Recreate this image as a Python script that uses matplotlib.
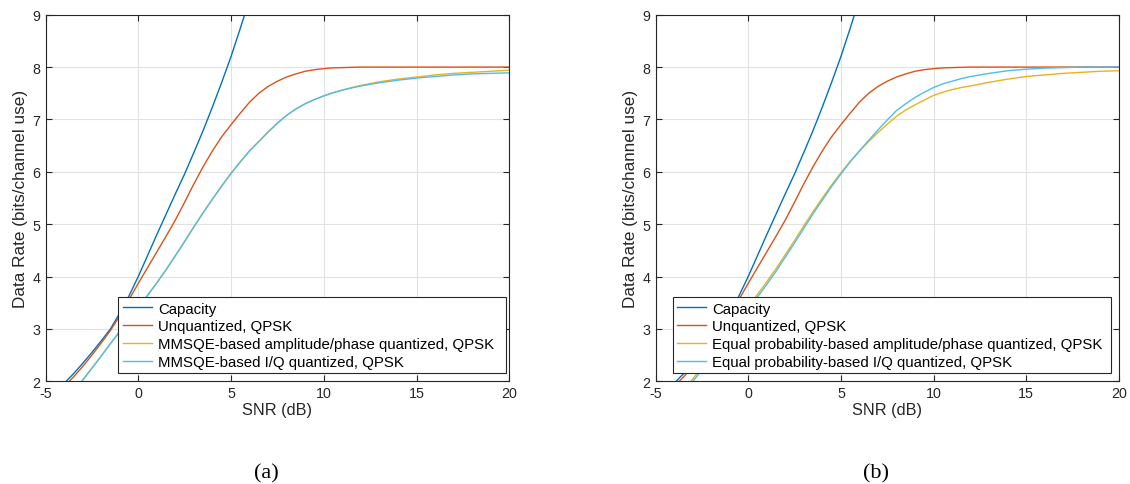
import numpy as np
import matplotlib
matplotlib.use('Agg')
import matplotlib.pyplot as plt

plt.rcParams['font.family'] = ['Liberation Sans', 'DejaVu Sans']
plt.rcParams['axes.unicode_minus'] = False

# SNR grid (dB): half-dB steps up to 12, then whole dB
snr = [-5, -4.5, -4, -3.5, -3, -2.5, -2, -1.5, -1, -0.5, 0, 0.5, 1, 1.5, 2, 2.5,
       3, 3.5, 4, 4.5, 5, 5.5, 6, 6.5, 7, 7.5, 8, 8.5, 9, 9.5, 10, 10.5, 11, 11.5,
       12, 13, 14, 15, 16, 17, 18, 19, 20]

# capacity only drawn up to 7 dB (goes off the top of the axes)
snr_cap = [-5, -4.5, -4, -3.5, -3, -2.5, -2, -1.5, -1, -0.5, 0, 0.5, 1, 1.5, 2, 2.5,
           3, 3.5, 4, 4.5, 5, 5.5, 6, 6.5, 7]
capacity = [1.62, 1.8, 1.96, 2.14, 2.34, 2.55, 2.77, 3.0, 3.3, 3.63, 4.0, 4.4, 4.8,
            5.19, 5.58, 5.96, 6.37, 6.79, 7.24, 7.71, 8.2, 8.74, 9.3, 9.85, 10.4]

unquant = [1.55, 1.72, 1.9, 2.08, 2.28, 2.5, 2.73, 2.97, 3.25, 3.56, 3.87, 4.17, 4.47,
           4.77, 5.08, 5.42, 5.77, 6.1, 6.4, 6.67, 6.9, 7.12, 7.33, 7.5, 7.63, 7.73,
           7.81, 7.87, 7.92, 7.95, 7.97, 7.985, 7.99, 7.995, 8.0, 8.0, 8.0, 8.0, 8.0,
           8.0, 8.0, 8.0, 8.0]

# (a) MMSQE-based
mmsqe_ap = [1.2, 1.4, 1.6, 1.8, 2.02, 2.25, 2.48, 2.72, 2.95, 3.18, 3.41, 3.64, 3.88,
            4.13, 4.4, 4.67, 4.95, 5.22, 5.48, 5.73, 5.97, 6.19, 6.4, 6.58, 6.76, 6.93,
            7.08, 7.2, 7.3, 7.38, 7.45, 7.51, 7.56, 7.61, 7.65, 7.72, 7.77, 7.81, 7.85,
            7.88, 7.9, 7.92, 7.94]
mmsqe_iq = [1.2, 1.4, 1.6, 1.8, 2.02, 2.25, 2.48, 2.72, 2.95, 3.18, 3.41, 3.64, 3.88,
            4.13, 4.4, 4.67, 4.95, 5.22, 5.48, 5.73, 5.97, 6.19, 6.4, 6.58, 6.76, 6.93,
            7.08, 7.2, 7.3, 7.38, 7.45, 7.51, 7.56, 7.6, 7.64, 7.7, 7.75, 7.79, 7.82,
            7.85, 7.87, 7.88, 7.89]

# (b) equal probability-based
ep_ap = [1.22, 1.42, 1.62, 1.82, 2.04, 2.27, 2.5, 2.74, 2.97, 3.2, 3.43, 3.66, 3.9,
         4.15, 4.42, 4.69, 4.97, 5.24, 5.5, 5.75, 5.98, 6.2, 6.4, 6.58, 6.75, 6.91,
         7.06, 7.18, 7.28, 7.37, 7.46, 7.52, 7.57, 7.61, 7.64, 7.71, 7.77, 7.82, 7.85,
         7.88, 7.9, 7.92, 7.93]
ep_iq = [1.18, 1.38, 1.58, 1.78, 1.99, 2.22, 2.45, 2.69, 2.92, 3.15, 3.38, 3.61, 3.85,
         4.1, 4.37, 4.64, 4.92, 5.2, 5.46, 5.72, 5.96, 6.19, 6.4, 6.6, 6.8, 6.99, 7.17,
         7.3, 7.42, 7.52, 7.61, 7.68, 7.73, 7.78, 7.82, 7.88, 7.93, 7.96, 7.98, 7.99,
         8.0, 8.0, 8.0]

labels_a = ['Capacity', 'Unquantized, QPSK',
            'MMSQE-based amplitude/phase quantized, QPSK',
            'MMSQE-based I/Q quantized, QPSK']
labels_b = ['Capacity', 'Unquantized, QPSK',
            'Equal probability-based amplitude/phase quantized, QPSK',
            'Equal probability-based I/Q quantized, QPSK']

colors = ['#0072BD', '#D95319', '#EDB120', '#4DBEEE']
ink = '#262626'

W, H = 1130, 485
fig = plt.figure(figsize=(W / 100, H / 100), dpi=100)
ax_a = fig.add_axes([45.5 / W, 1 - 382.3 / H, 463.8 / W, 366.6 / H])
ax_b = fig.add_axes([655.5 / W, 1 - 382.3 / H, 463.5 / W, 366.6 / H])

# legend boxes (axes fraction): left, bottom, width
leg_box = {'(a)': (0.157, 0.0218, 0.836), '(b)': (0.0371, 0.0218, 0.9456)}

panels = [(ax_a, [capacity, unquant, mmsqe_ap, mmsqe_iq], labels_a, '(a)'),
          (ax_b, [capacity, unquant, ep_ap, ep_iq], labels_b, '(b)')]

for ax, series, labels, cap in panels:
    for i, (ys, lab, c) in enumerate(zip(series, labels, colors)):
        xs = snr_cap if i == 0 else snr
        ax.plot(xs, ys, color=c, lw=1.0, label=lab)
    ax.set_xlim(-5, 20)
    ax.set_ylim(2, 9)
    ax.set_xticks([-5, 0, 5, 10, 15, 20])
    ax.set_yticks([2, 3, 4, 5, 6, 7, 8, 9])
    ax.grid(True, color='#e2e2e2', lw=0.8)
    ax.set_axisbelow(True)
    ax.tick_params(direction='in', length=4, width=0.8, labelsize=10.3,
                   top=True, right=True, colors=ink, labelcolor=ink)
    for sp in ax.spines.values():
        sp.set_color(ink)
        sp.set_linewidth(0.8)
    ax.set_xlabel('SNR (dB)', fontsize=11.7, color=ink, labelpad=1)
    ax.set_ylabel('Data Rate (bits/channel use)', fontsize=12.3, color=ink, labelpad=3)
    x0, y0, w = leg_box[cap]
    leg = ax.legend(loc='lower left', mode='expand', fontsize=10.8, frameon=True,
                    fancybox=False, framealpha=1, edgecolor=ink, borderaxespad=0,
                    bbox_to_anchor=(x0, y0, w, 0.2),
                    handlelength=1.95, handletextpad=0.4, labelspacing=0.25,
                    borderpad=0.3)
    leg.get_frame().set_linewidth(0.8)
    ax.text(0.476, -0.25, cap, transform=ax.transAxes, ha='center', va='center',
            fontsize=16, family='Liberation Serif')

fig.savefig('out.png', dpi=100)
